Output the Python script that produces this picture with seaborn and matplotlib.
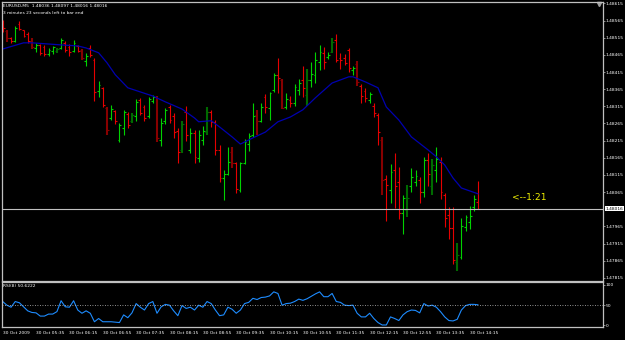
"""
EURUSD M5 chart (MetaTrader style) with a moving average and an RSI(8) pane.
"""

import matplotlib
matplotlib.use("Agg")
import matplotlib.pyplot as plt
import matplotlib.transforms as mtransforms
import numpy as np
import pandas as pd
import seaborn as sns

# Bars, 30 Oct 2009, first bar 04:55, one bar per 5 minutes
opens = [
    1.48561, 1.48535, 1.48514, 1.48506, 1.48555, 1.48538, 1.48526, 1.48506, 1.48485, 1.48494,
    1.48488, 1.48468, 1.48477, 1.48477, 1.48485, 1.48500, 1.48488, 1.48477, 1.48491, 1.48479,
    1.48447, 1.48485, 1.48450, 1.48360, 1.48369, 1.48310, 1.48281, 1.48302, 1.48217, 1.48252,
    1.48293, 1.48273, 1.48287, 1.48334, 1.48313, 1.48287, 1.48331, 1.48343, 1.48217, 1.48273,
    1.48313, 1.48287, 1.48243, 1.48188, 1.48299, 1.48188, 1.48238, 1.48165, 1.48217, 1.48240,
    1.48299, 1.48270, 1.48188, 1.48106, 1.48118, 1.48182, 1.48150, 1.48071, 1.48150, 1.48205,
    1.48232, 1.48290, 1.48273, 1.48343, 1.48310, 1.48363, 1.48407, 1.48392, 1.48313, 1.48334,
    1.48325, 1.48363, 1.48392, 1.48348, 1.48392, 1.48407, 1.48444, 1.48471, 1.48459, 1.48474,
    1.48509, 1.48456, 1.48456, 1.48479, 1.48421, 1.48439, 1.48375, 1.48360, 1.48334, 1.48316,
    1.48290, 1.48217, 1.48103, 1.48071, 1.48130, 1.48095, 1.48004, 1.48013, 1.48083, 1.48095,
    1.48101, 1.48066, 1.48159, 1.48083, 1.48130, 1.48153, 1.48057, 1.47999, 1.47961, 1.47861,
    1.47876, 1.47964, 1.47978, 1.48022, 1.48036,
]
highs = [
    1.48567, 1.48538, 1.48517, 1.48549, 1.48564, 1.48538, 1.48532, 1.48514, 1.48500, 1.48497,
    1.48494, 1.48485, 1.48491, 1.48485, 1.48514, 1.48506, 1.48497, 1.48509, 1.48494, 1.48482,
    1.48471, 1.48494, 1.48456, 1.48389, 1.48372, 1.48313, 1.48319, 1.48305, 1.48267, 1.48305,
    1.48299, 1.48296, 1.48337, 1.48340, 1.48319, 1.48343, 1.48348, 1.48345, 1.48281, 1.48310,
    1.48319, 1.48296, 1.48252, 1.48273, 1.48316, 1.48252, 1.48246, 1.48246, 1.48258, 1.48313,
    1.48305, 1.48275, 1.48203, 1.48130, 1.48197, 1.48197, 1.48153, 1.48153, 1.48220, 1.48238,
    1.48325, 1.48305, 1.48325, 1.48351, 1.48357, 1.48412, 1.48456, 1.48395, 1.48354, 1.48345,
    1.48380, 1.48395, 1.48433, 1.48424, 1.48444, 1.48474, 1.48494, 1.48488, 1.48474, 1.48514,
    1.48526, 1.48471, 1.48468, 1.48485, 1.48433, 1.48447, 1.48380, 1.48369, 1.48357, 1.48325,
    1.48296, 1.48226, 1.48115, 1.48147, 1.48179, 1.48138, 1.48057, 1.48086, 1.48136, 1.48130,
    1.48109, 1.48168, 1.48179, 1.48162, 1.48197, 1.48168, 1.48063, 1.48022, 1.48022, 1.47917,
    1.47990, 1.47999, 1.48025, 1.48057, 1.48097,
]
lows = [
    1.48532, 1.48503, 1.48500, 1.48503, 1.48538, 1.48517, 1.48500, 1.48482, 1.48474, 1.48465,
    1.48462, 1.48462, 1.48468, 1.48471, 1.48482, 1.48474, 1.48462, 1.48474, 1.48474, 1.48450,
    1.48433, 1.48459, 1.48331, 1.48343, 1.48313, 1.48232, 1.48275, 1.48264, 1.48211, 1.48232,
    1.48252, 1.48267, 1.48273, 1.48290, 1.48273, 1.48281, 1.48325, 1.48211, 1.48200, 1.48264,
    1.48267, 1.48223, 1.48150, 1.48179, 1.48214, 1.48179, 1.48150, 1.48153, 1.48203, 1.48232,
    1.48255, 1.48173, 1.48095, 1.48042, 1.48115, 1.48136, 1.48063, 1.48066, 1.48147, 1.48185,
    1.48226, 1.48232, 1.48270, 1.48296, 1.48275, 1.48357, 1.48354, 1.48307, 1.48307, 1.48313,
    1.48316, 1.48348, 1.48343, 1.48316, 1.48372, 1.48383, 1.48421, 1.48424, 1.48453, 1.48471,
    1.48444, 1.48424, 1.48436, 1.48415, 1.48407, 1.48375, 1.48325, 1.48328, 1.48325, 1.48284,
    1.48203, 1.48057, 1.47981, 1.48034, 1.48019, 1.47987, 1.47943, 1.47993, 1.48066, 1.48083,
    1.48034, 1.48051, 1.48083, 1.48057, 1.48095, 1.48045, 1.47964, 1.47929, 1.47856, 1.47835,
    1.47870, 1.47952, 1.47958, 1.48010, 1.48016,
]
closes = [
    1.48544, 1.48514, 1.48506, 1.48544, 1.48541, 1.48520, 1.48506, 1.48488, 1.48494, 1.48471,
    1.48468, 1.48479, 1.48488, 1.48482, 1.48509, 1.48479, 1.48474, 1.48500, 1.48477, 1.48456,
    1.48462, 1.48465, 1.48357, 1.48377, 1.48319, 1.48246, 1.48307, 1.48273, 1.48261, 1.48299,
    1.48261, 1.48290, 1.48328, 1.48296, 1.48281, 1.48337, 1.48343, 1.48223, 1.48267, 1.48305,
    1.48275, 1.48240, 1.48182, 1.48264, 1.48232, 1.48238, 1.48168, 1.48232, 1.48243, 1.48299,
    1.48270, 1.48188, 1.48106, 1.48118, 1.48153, 1.48150, 1.48074, 1.48150, 1.48211, 1.48229,
    1.48287, 1.48273, 1.48313, 1.48313, 1.48354, 1.48407, 1.48398, 1.48310, 1.48337, 1.48325,
    1.48372, 1.48383, 1.48369, 1.48392, 1.48410, 1.48450, 1.48474, 1.48444, 1.48465, 1.48503,
    1.48450, 1.48450, 1.48442, 1.48427, 1.48427, 1.48386, 1.48345, 1.48340, 1.48351, 1.48296,
    1.48240, 1.48101, 1.48086, 1.48124, 1.48083, 1.48004, 1.48048, 1.48048, 1.48109, 1.48112,
    1.48066, 1.48159, 1.48118, 1.48144, 1.48162, 1.48066, 1.47990, 1.47961, 1.47867, 1.47882,
    1.47966, 1.47993, 1.47996, 1.48045, 1.48016,
]
# bar colour class: u/d = bright up/down, U/D = dark up/down
kinds = ("dDdudddDud" "duuUuddudD" "uddudDuduu" "dUudduuDuu" "dddUduduuU"
         "ddduuDduuu" "uDuduudDud" "uudUuuuduU" "dddduDddud" "dDdudduUuu"
         "dudUuddddU" "uuuud")

# moving average, sampled along the blue line
ma_bars = [1, 6, 8, 15, 19, 21, 24, 26, 28, 31, 34, 37, 40, 44, 47, 48, 51, 53, 56, 58,
           61, 64, 67, 70, 73, 76, 80, 84, 85, 88, 91, 93, 96, 99, 103, 105, 107, 109, 111, 115]
ma_vals = [1.48482, 1.48500, 1.48500, 1.48494, 1.48491, 1.48485, 1.48471, 1.48442, 1.48407, 1.48369,
           1.48357, 1.48345, 1.48328, 1.48307, 1.48281, 1.48270, 1.48273, 1.48255, 1.48226, 1.48205,
           1.48223, 1.48240, 1.48270, 1.48284, 1.48305, 1.48340, 1.48383, 1.48401, 1.48401, 1.48386,
           1.48369, 1.48313, 1.48275, 1.48226, 1.48188, 1.48168, 1.48144, 1.48106, 1.48077, 1.48060]

rsi_vals = [
    59, 50, 45, 59, 56, 46, 36, 32, 31, 23,
    23, 28, 28, 34, 61, 46, 45, 61, 38, 30,
    36, 30, 9, 17, 9, 9, 9, 8, 7, 26,
    19, 31, 54, 45, 38, 54, 59, 30, 46, 52,
    50, 36, 24, 49, 42, 45, 38, 50, 45, 59,
    54, 38, 24, 26, 45, 40, 30, 38, 54, 57,
    67, 64, 69, 70, 73, 83, 79, 50, 54, 55,
    59, 65, 62, 66, 72, 78, 83, 71, 71, 79,
    59, 57, 50, 49, 50, 30, 21, 21, 30, 17,
    7, 1, 1, 21, 17, 12, 26, 34, 38, 37,
    31, 54, 48, 50, 45, 34, 21, 12, 11, 15,
    38, 49, 52, 52, 51,
]

price_ticks = [1.48615, 1.48565, 1.48515, 1.48465, 1.48415, 1.48365, 1.48315, 1.48265,
               1.48215, 1.48165, 1.48115, 1.48065, 1.47965, 1.47915, 1.47865, 1.47815]
bid = 1.48016
time_bars = [1, 9, 17, 25, 33, 41, 49, 57, 65, 73, 81, 89, 97, 105, 113]
time_labels = ["30 Oct 2009", "30 Oct 05:35", "30 Oct 06:15", "30 Oct 06:55", "30 Oct 07:35",
               "30 Oct 08:15", "30 Oct 08:55", "30 Oct 09:35", "30 Oct 10:15", "30 Oct 10:55",
               "30 Oct 11:35", "30 Oct 12:15", "30 Oct 12:55", "30 Oct 13:35", "30 Oct 14:15"]

FG = "#c0c0c0"
SMALL = 3.2
sns.set_theme(style="dark", rc={
    "figure.facecolor": "black",
    "axes.facecolor": "black",
    "axes.edgecolor": FG,
    "axes.linewidth": 0.9,
    "axes.grid": False,
    "xtick.color": FG,
    "ytick.color": FG,
    "text.color": "white",
})
plt.rcParams["font.family"] = ["DejaVu Sans"]

fig = plt.figure(figsize=(6.25, 3.4), dpi=100)
ax = fig.add_axes([0.0032, 0.17353, 0.9616, 0.82059])
ax_rsi = fig.add_axes([0.0032, 0.03824, 0.9616, 0.13235])

df = pd.DataFrame({
    "bar": np.arange(1, len(opens) + 1),
    "open": opens, "high": highs, "low": lows, "close": closes,
    "kind": list(kinds),
})

# Bars
bar_colors = {"u": "#00d200", "d": "#e60000", "U": "#006a00", "D": "#880000"}
for kind, g in df.groupby("kind"):
    lw = 1.5 if kind.isupper() else 0.8
    col = bar_colors[kind]
    ax.vlines(g["bar"], g["low"], g["high"], color=col, lw=lw)
    ax.hlines(g["open"], g["bar"] - 0.45, g["bar"], color=col, lw=0.8)
    ax.hlines(g["close"], g["bar"], g["bar"] + 0.45, color=col, lw=0.8)

# Moving average
sns.lineplot(x=ma_bars, y=ma_vals, color="#0000b0", lw=0.9, ax=ax)

# Bid line and price axis
ax.axhline(bid, color=FG, lw=0.8)
ax.set_xlim(0.83, 144.96)
ax.set_ylim(1.47806, 1.48619)
ax.set_xticks([])
ax.set_yticks(price_ticks)
ax.set_yticklabels([f"{p:.5f}" for p in price_ticks])
ax.yaxis.tick_right()
ax.tick_params(axis="y", labelsize=SMALL, length=1.2, width=0.5, pad=0.6, labelcolor="white")

trans = mtransforms.blended_transform_factory(ax.transAxes, ax.transData)
ax.text(1.0035, bid, f"{bid:.5f}", transform=trans, fontsize=SMALL, color="black",
        va="center", ha="left", clip_on=False,
        bbox=dict(boxstyle="square,pad=0.12", fc="white", ec="none"))

# Header texts
ax.text(0.002, 0.986, "EURUSD,M5  1.48036 1.48097 1.48016 1.48016", transform=ax.transAxes,
        fontsize=SMALL, color="white", va="center", ha="left")
ax.text(0.002, 0.962, "3 minutes 23 seconds left to bar end", transform=ax.transAxes,
        fontsize=SMALL, color="white", va="center", ha="left")
ax.text(0.8486, 0.2975, "<--1:21", transform=ax.transAxes, fontsize=6.6,
        color="#f0f000", va="center", ha="left")

# chart-shift marker at the top edge
ax.plot([0.9935], [0.994], marker="v", ms=3, color="#a0a0a0", transform=ax.transAxes,
        clip_on=False)

# RSI pane
sns.lineplot(x=df["bar"], y=rsi_vals, color="#1e8cff", lw=0.8, ax=ax_rsi)
ax_rsi.axhline(50, color=FG, lw=0.6, ls=(0, (1, 2)))
ax_rsi.set_xlim(0.83, 144.96)
ax_rsi.set_ylim(-4, 107.4)
ax_rsi.set_yticks([0, 50, 100])
ax_rsi.set_yticklabels(["0", "50", "100"])
ax_rsi.yaxis.tick_right()
ax_rsi.tick_params(axis="y", labelsize=SMALL, length=1.2, width=0.5, pad=0.6, labelcolor="white")
ax_rsi.set_xticks(time_bars)
ax_rsi.set_xticklabels(time_labels, ha="left")
ax_rsi.tick_params(axis="x", labelsize=SMALL, length=1.5, width=0.5, pad=1.2, labelcolor="white")
ax_rsi.set_xlabel("")
ax_rsi.set_ylabel("")
ax.set_xlabel("")
ax.set_ylabel("")
ax_rsi.text(0.002, 0.91, "RSI(8) 50.6222", transform=ax_rsi.transAxes, fontsize=SMALL,
            color="white", va="center", ha="left")

plt.savefig("out.png", dpi=100, facecolor="black")
plt.close()
